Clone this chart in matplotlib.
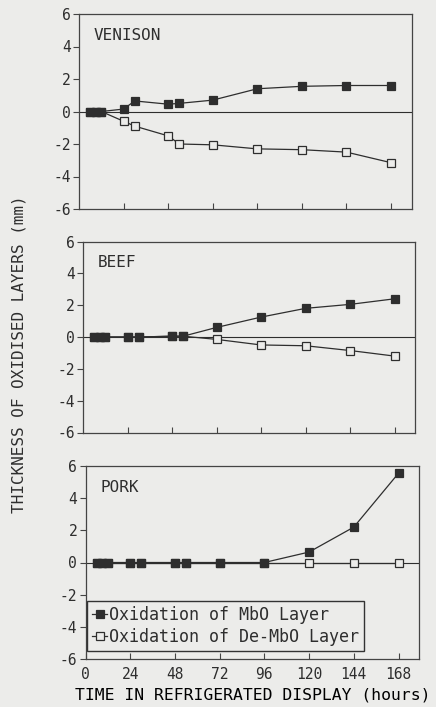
import matplotlib.pyplot as plt

# hours of refrigerated display
hours = [6, 9, 12, 24, 30, 48, 54, 72, 96, 120, 144, 168]

# thickness of oxidised layers (mm)
venison_mbo = [0, 0, 0, 0.15, 0.65, 0.45, 0.5, 0.7, 1.4, 1.55, 1.6, 1.6]
venison_de = [0, 0, 0, -0.6, -0.9, -1.5, -2.0, -2.05, -2.3, -2.35, -2.5, -3.15]
beef_mbo = [0, 0, 0, 0, 0, 0.05, 0.05, 0.6, 1.25, 1.8, 2.05, 2.4]
beef_de = [0, 0, 0, 0, 0, 0.05, 0.05, -0.15, -0.5, -0.55, -0.85, -1.2]
pork_mbo = [0, 0, 0, 0, 0, 0, 0, 0, 0, 0.65, 2.2, 5.55]
pork_de = [0, 0, 0, 0, 0, 0, 0, 0, 0, 0, 0, 0]

panels = ['VENISON', 'BEEF', 'PORK']
x_ticks = [0, 24, 48, 72, 96, 120, 144, 168]
y_ticks = [-6, -4, -2, 0, 2, 4, 6]

paper = '#ececea'
ink = '#2e2e2e'
mono = 'DejaVu Sans Mono'

plt.rcParams['font.family'] = mono
plt.rcParams['text.color'] = ink
plt.rcParams['axes.edgecolor'] = '#444444'
plt.rcParams['xtick.color'] = '#444444'
plt.rcParams['ytick.color'] = '#444444'
plt.rcParams['xtick.labelcolor'] = ink
plt.rcParams['ytick.labelcolor'] = ink

W, H = 436, 707
fig = plt.figure(figsize=(W / 100, H / 100), dpi=100, facecolor=paper)

# axes boxes in pixels: left, right, top, bottom
boxes = [(79, 411.5, 14, 209), (83, 415, 241.5, 432.5), (85.5, 419, 466, 659)]
series = [(venison_mbo, venison_de), (beef_mbo, beef_de), (pork_mbo, pork_de)]

axes = []
for k, (l, r, t, b) in enumerate(boxes):
    ax = fig.add_axes([l / W, 1 - b / H, (r - l) / W, (b - t) / H])
    ax.set_facecolor(paper)
    mbo, de = series[k]
    ax.axhline(0, color=ink, lw=0.8, zorder=1)
    h_de, = ax.plot(hours, de, color=ink, lw=0.9, marker='s', ms=5.7,
                    mfc=paper, mec=ink, mew=0.9, zorder=2)
    h_mbo, = ax.plot(hours, mbo, color=ink, lw=0.9, marker='s', ms=5.7,
                     mfc=ink, mec=ink, mew=0.9, zorder=3)
    ax.set_xlim(0, 179)
    ax.set_ylim(-6, 6)
    ax.set_yticks(y_ticks)
    ax.set_yticklabels([str(v) for v in y_ticks])
    ax.set_xticks(x_ticks[1:])
    ax.tick_params(axis='y', direction='out', length=4, width=0.8, pad=2, labelsize=10.5)
    ax.tick_params(axis='x', direction='in', length=4, width=0.8, pad=6, labelsize=10.5)
    for s in ax.spines.values():
        s.set_linewidth(0.9)
    ax.text(0.045, 0.93, panels[k], transform=ax.transAxes, fontsize=11.5,
            ha='left', va='top')
    if k < 2:
        ax.set_xticklabels([])
    else:
        ax.set_xticks(x_ticks)
        ax.set_xticklabels([str(v) for v in x_ticks])
        ax.set_xlabel('TIME IN REFRIGERATED DISPLAY (hours)', fontsize=11.8, labelpad=4)
        ax.legend([h_mbo, h_de], ['Oxidation of MbO Layer', 'Oxidation of De-MbO Layer'],
                  loc='lower left', bbox_to_anchor=(87 / W, 1 - 651 / H),
                  bbox_transform=fig.transFigure, fontsize=12, numpoints=1,
                  handlelength=0.9, handletextpad=0.1, borderpad=0.3,
                  labelspacing=0.25, borderaxespad=0, fancybox=False,
                  framealpha=1, facecolor=paper, edgecolor='#333333')
    axes.append(ax)

fig.text(19 / W, 1 - 354 / H, 'THICKNESS OF OXIDISED LAYERS (mm)', rotation=90,
         ha='center', va='center', fontsize=11.5)

fig.savefig('out.png', dpi=100, facecolor=paper)
